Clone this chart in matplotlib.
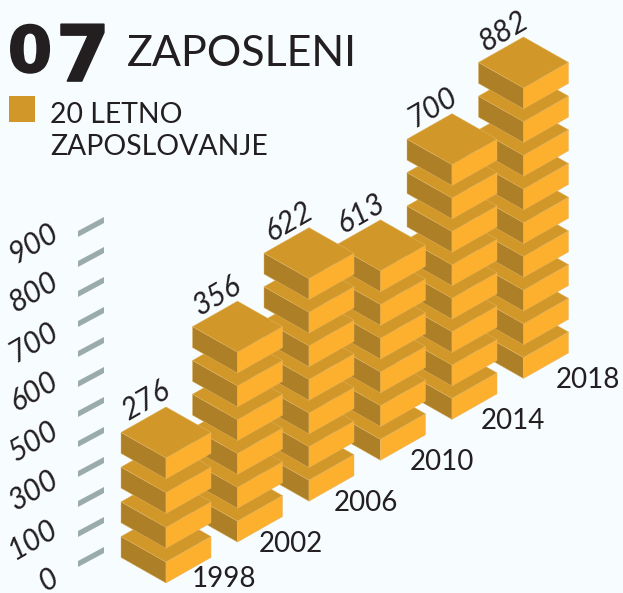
import matplotlib
matplotlib.use("Agg")
import matplotlib.pyplot as plt
import matplotlib.patheffects as pe
from matplotlib.patches import Polygon

years = ["1998", "2002", "2006", "2010", "2014", "2018"]
values = [276, 356, 622, 613, 700, 882]
blocks = [4, 6, 7, 6, 8, 9]
axis_labels = ["0", "100", "300", "500", "600", "700", "800", "900"]
N_TICKS = 12

TOP, LEFT, RIGHT = "#D29729", "#AD7F27", "#FDAF2E"
INK = "#231F20"
FONT = ["Lato", "DejaVu Sans"]
YEAR_DX = [58, 53, 57, 61, 61, 64]
YEAR_DY = [-3, 3, 3, 3, 3, 3]
STEPS = [34.7, 33.8, 33.6, 33.7, 33.4, 33.7]

fig = plt.figure(figsize=(6.23, 5.93), dpi=100, facecolor="#F7FCFF")
ax = fig.add_axes([0, 0, 1, 1])
ax.set_xlim(0, 623)
ax.set_ylim(593, 0)
ax.axis("off")

W, D, H = 45, 25.5, 21


def block(fx, fy):
    """fx, fy: front bottom corner of the block."""
    ft = fy - H
    faces = [
        ([(fx - W, ft - D), (fx, ft), (fx, fy), (fx - W, fy - D)], LEFT),
        ([(fx, ft), (fx + W, ft - D), (fx + W, fy - D), (fx, fy)], RIGHT),
        ([(fx - W, ft - D), (fx, ft - 2 * D), (fx + W, ft - D), (fx, ft)], TOP),
    ]
    for pts, col in faces:
        ax.add_patch(Polygon(pts, closed=True, facecolor=col, edgecolor="#E3B765", lw=0.3))


for i in reversed(range(len(years))):
    fx = 166 + 71.5 * i
    fy = 583 - 40.9 * i
    for k in range(blocks[i]):
        block(fx, fy - k * STEPS[i])
    top_y = fy - (blocks[i] - 1) * STEPS[i] - H - 2 * D
    ax.text(fx - 20, top_y - 6, str(values[i]), rotation=30, ha="center", va="center",
            fontsize=21.5, style="italic", color=INK, family=FONT)
    ax.text(fx + YEAR_DX[i], fy - 1 + YEAR_DY[i], years[i], ha="center", va="center",
            fontsize=20, color=INK, family=FONT)

# slanted axis ticks
for k in range(N_TICKS):
    y = 234 + 30 * k
    ax.add_patch(Polygon([(78, y - 3), (104, y - 17), (104, y - 11), (78, y + 3)],
                         closed=True, facecolor="#9AABAB", edgecolor="none"))

for k, lab in enumerate(axis_labels):
    yc = 576 - 49.4 * k
    ax.text(56, yc, lab, rotation=30, ha="right", va="center", rotation_mode="anchor",
            fontsize=21.5, style="italic", color=INK, family=FONT)

# header
stroke = [pe.withStroke(linewidth=1.2, foreground=INK)]
ax.text(30, 72, "0", ha="center", va="baseline", fontsize=46, color=INK,
        family="DejaVu Sans", fontweight="bold", path_effects=stroke)
ax.text(83, 81, "7", ha="center", va="baseline", fontsize=56, color=INK,
        family="DejaVu Sans", fontweight="bold", path_effects=stroke)
ax.text(127, 66, "ZAPOSLENI", ha="left", va="baseline", fontsize=31, color=INK,
        family=FONT)
ax.add_patch(Polygon([(9, 96), (35, 96), (35, 122), (9, 122)], closed=True,
                     facecolor=TOP, edgecolor="none"))
ax.text(50, 123, "20 LETNO", ha="left", va="baseline", fontsize=20.4, color=INK, family=FONT)
ax.text(50, 155, "ZAPOSLOVANJE", ha="left", va="baseline", fontsize=20.4, color=INK, family=FONT)

fig.savefig("out.png", dpi=100, facecolor=fig.get_facecolor())
